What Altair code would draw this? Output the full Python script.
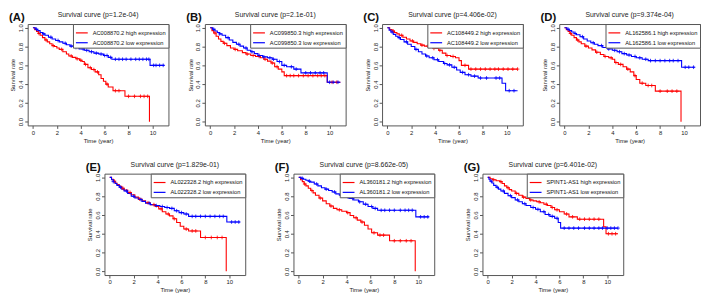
import altair as alt
import pandas as pd

panel_ids = ["A", "B", "C", "D", "E", "F", "G"]
genes = ["AC008870.2", "AC099850.3", "AC108449.2", "AL162586.1",
         "AL022328.2", "AL360181.2", "SPINT1-AS1"]
pvals = ["1.2e-04", "2.1e-01", "4.406e-02", "9.374e-04",
         "1.829e-01", "8.662e-05", "6.401e-02"]

# ---- Panel A ----
a_high_t = [0, 0.15, 0.3, 0.45, 0.6, 0.8, 1.0, 1.2, 1.4, 1.6, 1.8, 2.0, 2.2, 2.5, 2.8, 3.0, 3.3, 3.6, 3.9, 4.1, 4.3, 4.6, 4.9, 5.2, 5.5, 5.7, 5.9, 6.1, 6.3, 6.7, 7.7, 9.75]
a_high_s = [1, 0.98, 0.96, 0.94, 0.92, 0.895, 0.87, 0.85, 0.83, 0.81, 0.80, 0.785, 0.77, 0.745, 0.72, 0.70, 0.685, 0.67, 0.655, 0.64, 0.61, 0.575, 0.555, 0.53, 0.50, 0.46, 0.43, 0.40, 0.37, 0.33, 0.27, 0.0]
a_high_c = [0.5, 1.1, 1.7, 2.4, 3.2, 3.7, 4.0, 4.4, 4.8, 5.1, 5.4, 6.2, 6.9, 7.2, 8.0, 8.5, 9.0, 9.3, 9.6]
a_low_t = [0, 0.2, 0.4, 0.6, 0.8, 1.0, 1.3, 1.6, 1.9, 2.2, 2.5, 2.8, 3.1, 3.5, 3.9, 4.3, 4.7, 5.1, 5.5, 5.9, 6.3, 6.6, 9.8, 11.0]
a_low_s = [1, 0.985, 0.97, 0.95, 0.935, 0.92, 0.90, 0.88, 0.865, 0.85, 0.835, 0.82, 0.805, 0.79, 0.775, 0.76, 0.745, 0.73, 0.72, 0.705, 0.685, 0.665, 0.60, 0.60]
a_low_c = [0.3, 0.9, 1.5, 2.1, 2.7, 3.2, 3.6, 3.8, 4.2, 4.5, 4.9, 5.3, 5.7, 6.0, 6.2, 6.5, 6.9, 7.2, 7.5, 7.8, 8.2, 8.6, 8.9, 9.2, 9.5, 9.7, 10.1, 10.3, 10.6, 10.9]

# ---- Panel B ----
b_high_t = [0, 0.15, 0.3, 0.5, 0.7, 0.9, 1.1, 1.4, 1.7, 2.0, 2.3, 2.7, 3.0, 3.4, 3.8, 4.2, 4.5, 4.8, 5.1, 5.4, 5.7, 6.0, 6.2, 9.8, 10.9]
b_high_s = [1, 0.97, 0.945, 0.91, 0.88, 0.855, 0.835, 0.81, 0.785, 0.77, 0.755, 0.735, 0.72, 0.705, 0.695, 0.68, 0.665, 0.645, 0.625, 0.585, 0.56, 0.53, 0.49, 0.42, 0.42]
b_high_c = [0.4, 1.2, 2.1, 3.1, 3.6, 4.1, 4.6, 5.2, 5.6, 6.4, 6.7, 7.0, 7.4, 7.8, 8.2, 8.6, 9.0, 9.3, 9.6, 10.2, 10.6]
b_low_t = [0, 0.2, 0.4, 0.6, 0.8, 1.0, 1.3, 1.6, 1.9, 2.2, 2.5, 2.8, 3.1, 3.4, 3.7, 4.0, 4.4, 4.8, 5.2, 5.6, 6.0, 6.4, 7.0, 7.6, 9.8, 10.9]
b_low_s = [1, 0.985, 0.965, 0.95, 0.935, 0.92, 0.895, 0.87, 0.845, 0.825, 0.805, 0.785, 0.76, 0.745, 0.725, 0.705, 0.69, 0.68, 0.665, 0.64, 0.60, 0.585, 0.56, 0.52, 0.42, 0.42]
b_low_c = [0.3, 0.8, 1.5, 2.4, 3.0, 3.5, 4.1, 4.5, 5.0, 5.3, 5.8, 6.2, 6.8, 7.2, 8.0, 8.4, 8.8, 9.2, 9.5, 10.0, 10.3, 10.7]

# ---- Panel C ----
c_high_t = [0, 0.2, 0.4, 0.6, 0.8, 1.0, 1.3, 1.6, 1.9, 2.2, 2.5, 2.8, 3.1, 3.5, 3.9, 4.3, 4.6, 4.9, 5.3, 5.7, 6.0, 6.2, 6.8, 10.9]
c_high_s = [1, 0.98, 0.965, 0.95, 0.935, 0.92, 0.90, 0.88, 0.86, 0.845, 0.83, 0.815, 0.805, 0.795, 0.78, 0.76, 0.73, 0.705, 0.695, 0.68, 0.65, 0.60, 0.56, 0.56]
c_high_c = [0.5, 1.2, 2.1, 2.9, 3.4, 3.9, 4.4, 5.0, 5.5, 6.5, 7.0, 7.4, 7.8, 8.2, 8.6, 9.0, 9.3, 9.7, 10.1, 10.5, 10.9]
c_low_t = [0, 0.15, 0.3, 0.5, 0.7, 0.9, 1.1, 1.4, 1.7, 2.0, 2.3, 2.6, 2.9, 3.2, 3.5, 3.9, 4.3, 4.7, 5.0, 5.4, 5.8, 6.1, 6.5, 7.0, 7.6, 9.6, 9.9, 10.9]
c_low_s = [1, 0.975, 0.955, 0.93, 0.91, 0.895, 0.875, 0.85, 0.825, 0.80, 0.77, 0.745, 0.72, 0.70, 0.68, 0.66, 0.64, 0.62, 0.605, 0.58, 0.55, 0.525, 0.50, 0.485, 0.465, 0.41, 0.33, 0.33]
c_low_c = [0.4, 1.0, 1.6, 2.4, 3.3, 3.8, 4.2, 4.8, 5.2, 5.6, 6.3, 6.8, 7.3, 7.8, 8.3, 9.1, 9.4, 10.2, 10.6]

# ---- Panel D ----
d_high_t = [0, 0.15, 0.3, 0.45, 0.6, 0.8, 1.0, 1.2, 1.4, 1.7, 2.0, 2.3, 2.6, 3.0, 3.3, 3.7, 4.0, 4.2, 4.5, 4.9, 5.2, 5.5, 5.8, 6.0, 6.3, 6.8, 7.6, 9.75]
d_high_s = [1, 0.98, 0.96, 0.94, 0.92, 0.895, 0.87, 0.85, 0.83, 0.805, 0.785, 0.765, 0.74, 0.715, 0.695, 0.68, 0.665, 0.63, 0.61, 0.585, 0.56, 0.53, 0.49, 0.45, 0.41, 0.385, 0.325, 0.0]
d_high_c = [0.5, 1.1, 1.8, 2.7, 3.4, 3.9, 4.3, 4.7, 5.3, 5.9, 6.5, 7.0, 7.3, 8.0, 8.6, 9.0, 9.4]
d_low_t = [0, 0.2, 0.4, 0.6, 0.8, 1.0, 1.3, 1.6, 1.9, 2.2, 2.5, 2.8, 3.2, 3.6, 4.0, 4.4, 4.8, 5.2, 5.6, 6.0, 6.5, 7.0, 9.8, 10.9]
d_low_s = [1, 0.985, 0.97, 0.955, 0.94, 0.925, 0.905, 0.88, 0.86, 0.84, 0.825, 0.81, 0.79, 0.775, 0.76, 0.745, 0.725, 0.71, 0.695, 0.68, 0.665, 0.65, 0.58, 0.58]
d_low_c = [0.3, 0.9, 1.5, 2.4, 3.1, 3.7, 4.2, 4.6, 5.0, 5.4, 5.9, 6.3, 6.8, 7.2, 7.6, 8.0, 8.4, 8.8, 9.1, 9.5, 10.1, 10.4, 10.8]

# ---- Panel E ----
e_high_t = [0, 0.15, 0.3, 0.45, 0.6, 0.8, 1.0, 1.2, 1.5, 1.8, 2.1, 2.4, 2.7, 3.0, 3.4, 3.8, 4.1, 4.4, 4.7, 5.0, 5.3, 5.6, 5.9, 6.2, 6.6, 7.6, 9.75]
e_high_s = [1, 0.98, 0.96, 0.94, 0.925, 0.905, 0.885, 0.865, 0.84, 0.815, 0.79, 0.77, 0.75, 0.73, 0.71, 0.69, 0.665, 0.635, 0.61, 0.59, 0.56, 0.52, 0.48, 0.45, 0.43, 0.36, 0.0]
e_high_c = [0.4, 1.1, 1.7, 2.5, 3.2, 3.7, 4.3, 4.9, 5.4, 6.4, 6.9, 7.2, 8.0, 8.5, 9.0, 9.4]
e_low_t = [0, 0.15, 0.3, 0.45, 0.6, 0.8, 1.0, 1.2, 1.5, 1.8, 2.1, 2.4, 2.7, 3.0, 3.4, 3.8, 4.2, 4.6, 5.0, 5.4, 5.8, 6.2, 6.6, 9.8, 10.9]
e_low_s = [1, 0.975, 0.955, 0.935, 0.915, 0.895, 0.875, 0.855, 0.83, 0.80, 0.78, 0.765, 0.745, 0.725, 0.71, 0.70, 0.69, 0.68, 0.67, 0.645, 0.625, 0.61, 0.585, 0.525, 0.525]
e_low_c = [0.3, 0.9, 1.4, 2.0, 2.6, 3.3, 3.9, 4.4, 4.8, 5.2, 5.6, 6.0, 6.4, 6.9, 7.2, 7.6, 8.0, 8.4, 8.8, 9.2, 9.5, 10.2, 10.5, 10.8]

# ---- Panel F ----
f_high_t = [0, 0.15, 0.3, 0.45, 0.6, 0.8, 1.0, 1.2, 1.4, 1.7, 2.0, 2.3, 2.6, 2.9, 3.2, 3.6, 4.0, 4.3, 4.6, 4.9, 5.2, 5.5, 5.8, 6.1, 6.6, 7.6, 9.75]
f_high_s = [1, 0.975, 0.955, 0.93, 0.91, 0.885, 0.86, 0.835, 0.81, 0.78, 0.75, 0.72, 0.695, 0.67, 0.655, 0.64, 0.625, 0.595, 0.57, 0.545, 0.525, 0.49, 0.45, 0.41, 0.385, 0.325, 0.0]
f_high_c = [0.5, 1.1, 1.8, 2.7, 3.4, 4.1, 4.8, 5.3, 6.3, 6.8, 7.1, 8.0, 8.5, 9.0, 9.4]
f_low_t = [0, 0.2, 0.4, 0.6, 0.8, 1.0, 1.3, 1.6, 1.9, 2.2, 2.5, 2.8, 3.1, 3.4, 3.8, 4.2, 4.6, 5.0, 5.4, 5.8, 6.2, 6.6, 9.8, 10.9]
f_low_s = [1, 0.99, 0.98, 0.97, 0.96, 0.95, 0.93, 0.91, 0.89, 0.875, 0.86, 0.845, 0.825, 0.81, 0.795, 0.775, 0.76, 0.74, 0.715, 0.69, 0.67, 0.65, 0.58, 0.58]
f_low_c = [0.3, 0.9, 1.5, 2.3, 3.0, 3.6, 4.1, 4.5, 5.1, 5.6, 6.1, 6.4, 6.9, 7.2, 7.6, 8.0, 8.5, 8.9, 9.2, 9.5, 10.2, 10.5, 10.8]

# ---- Panel G ----
g_high_t = [0, 0.2, 0.4, 0.7, 1.0, 1.2, 1.4, 1.6, 1.8, 2.0, 2.3, 2.6, 2.9, 3.2, 3.5, 3.8, 4.1, 4.4, 4.7, 5.0, 5.3, 5.6, 6.0, 6.4, 6.8, 7.5, 9.7, 9.9, 10.9]
g_high_s = [1, 0.985, 0.975, 0.965, 0.955, 0.935, 0.91, 0.89, 0.87, 0.855, 0.83, 0.81, 0.79, 0.775, 0.76, 0.75, 0.74, 0.73, 0.715, 0.70, 0.68, 0.655, 0.635, 0.61, 0.58, 0.555, 0.475, 0.40, 0.40]
g_high_c = [0.5, 1.1, 1.7, 2.4, 3.0, 3.6, 4.3, 4.9, 5.4, 5.8, 6.6, 7.1, 7.7, 8.1, 8.5, 8.9, 9.3, 10.1, 10.4, 10.7]
g_low_t = [0, 0.1, 0.2, 0.35, 0.5, 0.7, 0.9, 1.1, 1.4, 1.7, 2.0, 2.3, 2.6, 2.9, 3.2, 3.6, 4.0, 4.4, 4.8, 5.2, 5.6, 5.9, 6.1, 10.9]
g_low_s = [1, 0.98, 0.96, 0.94, 0.915, 0.895, 0.875, 0.855, 0.83, 0.805, 0.785, 0.76, 0.74, 0.72, 0.70, 0.68, 0.66, 0.635, 0.605, 0.585, 0.565, 0.52, 0.46, 0.46]
g_low_c = [0.3, 0.8, 1.3, 1.9, 2.5, 3.1, 3.8, 4.2, 4.7, 5.1, 5.4, 5.8, 6.4, 6.8, 7.2, 7.6, 8.1, 8.5, 8.9, 9.3, 9.6, 10.0, 10.3, 10.6, 10.9]

curves = [
    (a_high_t, a_high_s, a_high_c, a_low_t, a_low_s, a_low_c),
    (b_high_t, b_high_s, b_high_c, b_low_t, b_low_s, b_low_c),
    (c_high_t, c_high_s, c_high_c, c_low_t, c_low_s, c_low_c),
    (d_high_t, d_high_s, d_high_c, d_low_t, d_low_s, d_low_c),
    (e_high_t, e_high_s, e_high_c, e_low_t, e_low_s, e_low_c),
    (f_high_t, f_high_s, f_high_c, f_low_t, f_low_s, f_low_c),
    (g_high_t, g_high_s, g_high_c, g_low_t, g_low_s, g_low_c),
]

FONT = "Liberation Sans"
W, H = 143, 103


def step_value(ts, ss, c):
    v = ss[0]
    for t, s in zip(ts, ss):
        if t <= c:
            v = s
    return v


def panel(i):
    ht, hs, hc, lt, ls, lc = curves[i]
    hi = f"{genes[i]} high expression"
    lo = f"{genes[i]} low expression"
    rows = []
    for t, s in zip(ht, hs):
        rows.append({"t": t, "s": s, "grp": hi, "kind": "line"})
    for t, s in zip(lt, ls):
        rows.append({"t": t, "s": s, "grp": lo, "kind": "line"})
    for c in hc:
        rows.append({"t": c, "s": step_value(ht, hs, c), "grp": hi, "kind": "cens"})
    for c in lc:
        rows.append({"t": c, "s": step_value(lt, ls, c), "grp": lo, "kind": "cens"})
    df = pd.DataFrame(rows)

    x = alt.X("t:Q", scale=alt.Scale(domain=[-0.44, 11.34], nice=False, zero=False),
              axis=alt.Axis(values=[0, 2, 4, 6, 8, 10], title="Time (year)"))
    y = alt.Y("s:Q", scale=alt.Scale(domain=[-0.04, 1.04], nice=False, zero=False),
              axis=alt.Axis(values=[0, 0.2, 0.4, 0.6, 0.8, 1.0], format=".1f",
                            title="Survival rate", labelAngle=270,
                            labelAlign="center", labelBaseline="bottom"))
    color = alt.Color("grp:N",
                      scale=alt.Scale(domain=[hi, lo], range=["#FF0000", "#0000FF"]),
                      legend=alt.Legend(orient="top-right", offset=0, title=None,
                                        fillColor="white", strokeColor="#555555",
                                        padding=2, symbolType="stroke", symbolSize=144,
                                        symbolStrokeWidth=1.2, labelFontSize=5.8,
                                        labelFont=FONT, labelColor="#111111",
                                        labelLimit=300, rowPadding=0))
    base = alt.Chart(df)
    lines = base.transform_filter(alt.datum.kind == "line").mark_line(
        interpolate="step-after", strokeWidth=1.1
    ).encode(x=x, y=y, color=color)
    cens = base.transform_filter(alt.datum.kind == "cens").mark_point(
        shape="M-1,0L1,0M0,-1L0,1", size=14, strokeWidth=0.8, filled=False, opacity=1
    ).encode(x=x, y=y, color=color)
    lab = alt.Chart(pd.DataFrame({"lab": [f"({panel_ids[i]})"]})).mark_text(
        font=FONT, fontSize=11.5, fontWeight="bold", align="left",
        baseline="alphabetic", color="#111111"
    ).encode(text="lab:N", x=alt.value(-19), y=alt.value(-3))
    return alt.layer(lines, cens, lab).properties(
        width=W, height=H,
        title=alt.Title(f"Survival curve (p={pvals[i]})", fontSize=7,
                        fontWeight="normal", font=FONT, color="#222222", offset=-6),
    )


panels = [panel(i) for i in range(7)]
top = alt.hconcat(*panels[:4], spacing=16).resolve_scale(color="independent")
bottom = alt.hconcat(*panels[4:], spacing=28).resolve_scale(color="independent")
chart = alt.vconcat(top, bottom, spacing=16, center=True).resolve_scale(
    color="independent"
).configure_view(stroke="#555555", strokeWidth=1).configure_axis(
    grid=False, domain=False, tickColor="#555555", tickSize=3,
    labelFontSize=6, labelFont=FONT, labelColor="#222222", labelPadding=1,
    titleFontSize=6, titleFont=FONT, titleColor="#222222", titleFontWeight="normal",
    titlePadding=2
).properties(background="white", padding=0)

chart.save("out.html", embed_options={"renderer": "svg", "actions": False})
